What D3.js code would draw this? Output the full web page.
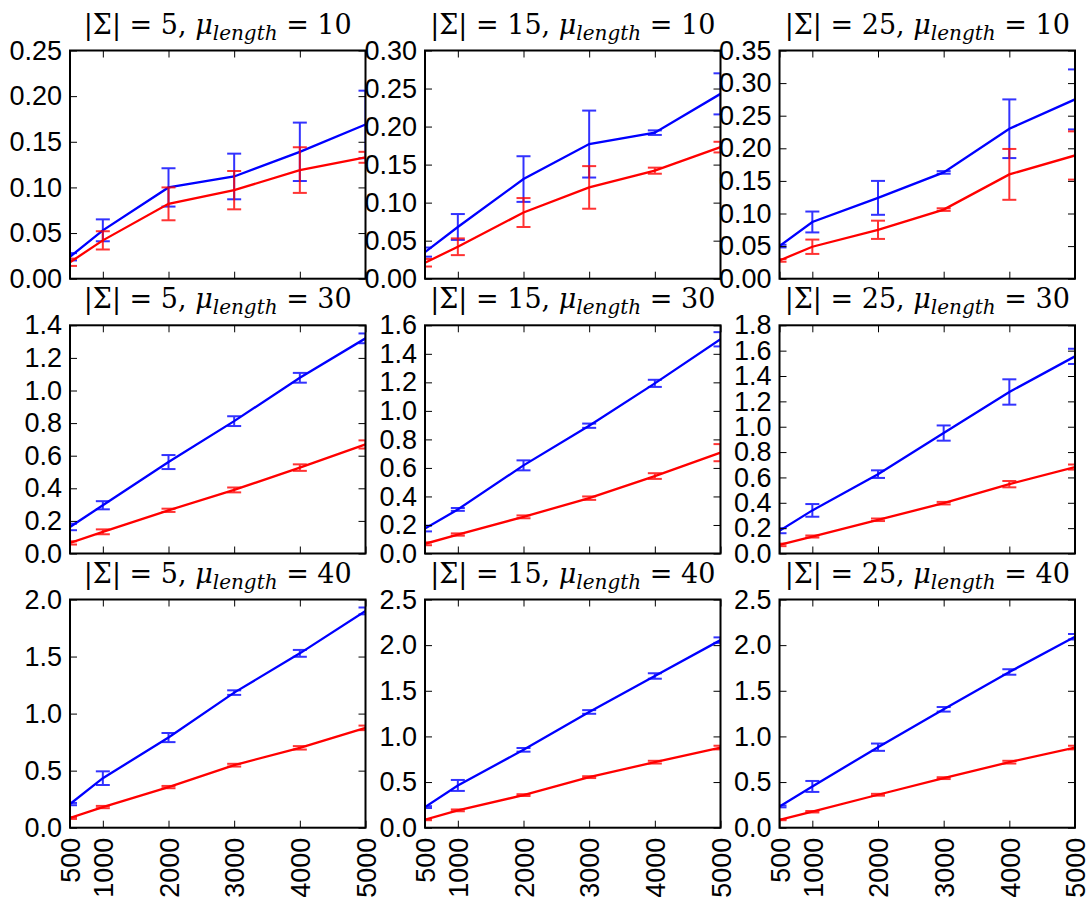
<!DOCTYPE html>
<html lang="en">
<head>
    <meta charset="UTF-8">
    <title>Runtime grid</title>
    <script src="https://d3js.org/d3.v7.min.js"></script>
    <style>
        body { margin: 0; background: #fff; }
        .tick text { font-family: "Liberation Sans", Arial, sans-serif; font-size: 27px; fill: #000; }
        .title { font-family: "DejaVu Serif", serif; font-size: 27px; fill: #000; }
    </style>
</head>
<body>
<div id="chart-container"></div>
<script>
// x positions shared by all panels
const xValues = [500, 1000, 2000, 3000, 4000, 5000];
const xTicks = [500, 1000, 2000, 3000, 4000, 5000];

// panel grid: rows by mean length, columns by alphabet size
const alphabetSizes = [5, 15, 25];
const meanLengths = [10, 30, 40];

// y axis top per panel, tick step and decimals per row
const yMax = [[0.25, 0.30, 0.35], [1.4, 1.6, 1.8], [2.0, 2.5, 2.5]];
const yStep = [0.05, 0.2, 0.5];
const yDecimals = [2, 1, 1];

// blue series (means and half error) [row][col][point]
const blueMean = [
    [[0.024, 0.053, 0.100, 0.112, 0.139, 0.169],
     [0.035, 0.068, 0.131, 0.177, 0.192, 0.243],
     [0.050, 0.087, 0.124, 0.163, 0.230, 0.275]],
    [[0.163, 0.296, 0.561, 0.812, 1.078, 1.320],
     [0.175, 0.309, 0.618, 0.896, 1.193, 1.502],
     [0.180, 0.340, 0.626, 0.950, 1.274, 1.555]],
    [[0.207, 0.434, 0.790, 1.184, 1.528, 1.900],
     [0.226, 0.463, 0.853, 1.268, 1.662, 2.055],
     [0.233, 0.452, 0.882, 1.297, 1.706, 2.092]]
];
const blueErr = [
    [[0.004, 0.012, 0.021, 0.025, 0.032, 0.037],
     [0.006, 0.017, 0.030, 0.044, 0.003, 0.027],
     [0.002, 0.016, 0.026, 0.002, 0.045, 0.046]],
    [[0.020, 0.025, 0.043, 0.030, 0.030, 0.030],
     [0.020, 0.010, 0.035, 0.015, 0.025, 0.050],
     [0.020, 0.050, 0.030, 0.060, 0.100, 0.060]],
    [[0.010, 0.060, 0.040, 0.020, 0.030, 0.030],
     [0.010, 0.060, 0.020, 0.020, 0.030, 0.030],
     [0.010, 0.060, 0.040, 0.025, 0.030, 0.030]]
];

// red series
const redMean = [
    [[0.018, 0.042, 0.082, 0.097, 0.119, 0.133],
     [0.021, 0.042, 0.087, 0.120, 0.142, 0.173],
     [0.028, 0.049, 0.075, 0.106, 0.160, 0.189]],
    [[0.065, 0.133, 0.265, 0.390, 0.527, 0.669],
     [0.068, 0.133, 0.257, 0.388, 0.543, 0.707],
     [0.068, 0.134, 0.266, 0.397, 0.547, 0.682]],
    [[0.085, 0.181, 0.356, 0.548, 0.700, 0.875],
     [0.087, 0.190, 0.357, 0.554, 0.718, 0.878],
     [0.087, 0.175, 0.361, 0.543, 0.718, 0.878]]
];
const redErr = [
    [[0.004, 0.010, 0.018, 0.021, 0.025, 0.006],
     [0.005, 0.011, 0.019, 0.028, 0.004, 0.007],
     [0.002, 0.011, 0.014, 0.002, 0.039, 0.037]],
    [[0.010, 0.015, 0.010, 0.015, 0.020, 0.025],
     [0.010, 0.008, 0.010, 0.012, 0.020, 0.060],
     [0.010, 0.008, 0.010, 0.010, 0.025, 0.020]],
    [[0.008, 0.010, 0.010, 0.012, 0.015, 0.020],
     [0.005, 0.010, 0.010, 0.010, 0.015, 0.020],
     [0.005, 0.008, 0.010, 0.010, 0.015, 0.020]]
];

// layout
const figW = 1086, figH = 897;
const colLeft = [70, 425, 779.5];
const rowTop = [50.5, 325.3, 599.5];
const panelW = 295.5, panelH = 228.2;

const svg = d3.select("#chart-container")
    .append("svg")
    .attr("width", figW)
    .attr("height", figH);

const series = [
    { mean: blueMean, err: blueErr, color: "#0000ff" },
    { mean: redMean, err: redErr, color: "#ff0000" }
];

meanLengths.forEach((len, r) => {
    alphabetSizes.forEach((size, c) => {
        const g = svg.append("g")
            .attr("transform", `translate(${colLeft[c]},${rowTop[r]})`);

        const x = d3.scaleLinear().domain([500, 5000]).range([0, panelW]);
        const y = d3.scaleLinear().domain([0, yMax[r][c]]).range([panelH, 0]);
        const yTicks = d3.range(0, yMax[r][c] + yStep[r] / 2, yStep[r]);

        const clipId = `clip-${r}-${c}`;
        g.append("clipPath").attr("id", clipId)
            .append("rect").attr("width", panelW).attr("height", panelH);

        // data
        const plot = g.append("g").attr("clip-path", `url(#${clipId})`);
        series.forEach(s => {
            const pts = xValues.map((xv, i) => ({ x: xv, m: s.mean[r][c][i], e: s.err[r][c][i] }));
            plot.append("path")
                .datum(pts)
                .attr("fill", "none")
                .attr("stroke", s.color)
                .attr("stroke-width", 2.3)
                .attr("d", d3.line().x(d => x(d.x)).y(d => y(d.m)));

            const bars = plot.append("g")
                .attr("stroke", s.color)
                .attr("stroke-width", 2)
                .attr("opacity", 0.8);
            pts.forEach(d => {
                const px = x(d.x), y0 = y(d.m - d.e), y1 = y(d.m + d.e);
                bars.append("line").attr("x1", px).attr("x2", px).attr("y1", y0).attr("y2", y1);
                bars.append("line").attr("x1", px - 7).attr("x2", px + 7).attr("y1", y0).attr("y2", y0);
                bars.append("line").attr("x1", px - 7).attr("x2", px + 7).attr("y1", y1).attr("y2", y1);
            });
        });

        // axes with inward ticks on all sides
        g.append("g")
            .call(d3.axisLeft(y).tickValues(yTicks).tickSizeInner(-7).tickSizeOuter(0).tickPadding(8)
                .tickFormat(d3.format(`.${yDecimals[r]}f`)));
        g.append("g").attr("transform", `translate(${panelW},0)`)
            .call(d3.axisRight(y).tickValues(yTicks).tickSizeInner(-7).tickSizeOuter(0).tickFormat(""));
        g.append("g")
            .call(d3.axisTop(x).tickValues(xTicks).tickSizeInner(-7).tickSizeOuter(0).tickFormat(""));
        const bottom = g.append("g").attr("transform", `translate(0,${panelH})`)
            .call(d3.axisBottom(x).tickValues(xTicks).tickSizeInner(-7).tickSizeOuter(0)
                .tickFormat(r === 2 ? d3.format("d") : ""));
        bottom.selectAll(".tick text")
            .attr("transform", "rotate(-90)")
            .attr("x", -10)
            .attr("y", 0)
            .attr("dy", "0.36em")
            .style("text-anchor", "end");
        g.selectAll(".domain").remove();
        g.selectAll(".tick line").attr("stroke", "#000").attr("stroke-width", 1);

        // frame
        g.append("rect")
            .attr("width", panelW).attr("height", panelH)
            .attr("fill", "none").attr("stroke", "#000").attr("stroke-width", 2);

        // title |Σ| = n, μ_length = m
        const t = g.append("text").attr("class", "title")
            .attr("x", panelW / 2).attr("y", -17)
            .attr("text-anchor", "middle");
        t.append("tspan").text(`|Σ| = ${size}, `);
        t.append("tspan").style("font-style", "italic").text("μ");
        t.append("tspan").style("font-style", "italic").style("font-size", "20px")
            .attr("dy", 6).text("length");
        t.append("tspan").attr("dy", -6).text(` = ${len}`);
    });
});
</script>
</body>
</html>
